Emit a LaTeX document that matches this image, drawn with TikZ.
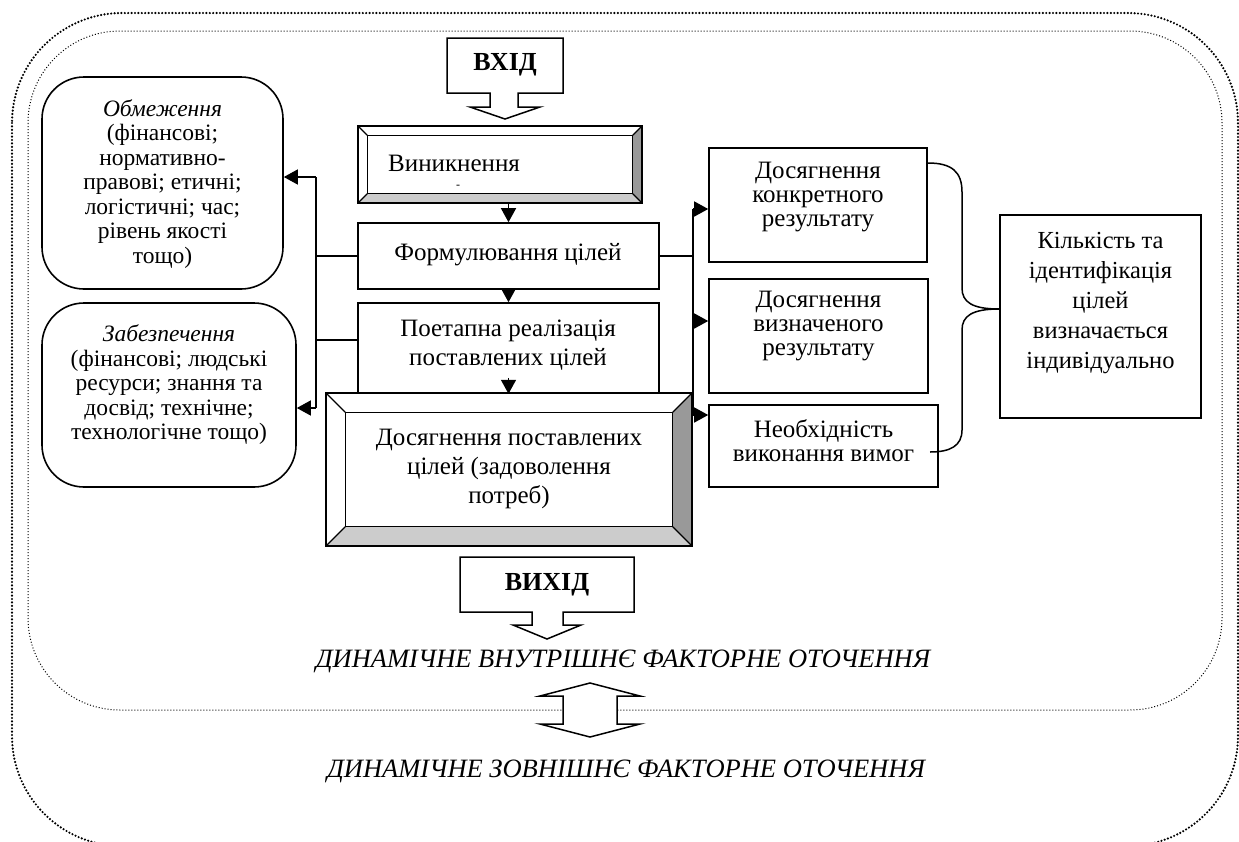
\documentclass[tikz,border=0pt]{standalone}
\usepackage{fontspec}
\setmainfont{Liberation Serif}
\usetikzlibrary{arrows.meta,calc}
\definecolor{bevdark}{HTML}{999999}
\definecolor{bevlight}{HTML}{CCCCCC}
\tikzset{
  bx/.style={draw, line width=1.6pt, fill=white, inner sep=0pt, rectangle},
  rbx/.style={draw, line width=1.6pt, fill=white, inner sep=0pt, rectangle, rounded corners=42pt},
  plain/.style={inner sep=0pt, rectangle},
  ctxt/.style={align=center, inner sep=0pt, font=\fontsize{25}{29}\selectfont},
  ltxt/.style={align=center, inner sep=0pt, font=\fontsize{23.5}{24.5}\selectfont},
  stxt/.style={align=center, inner sep=0pt, font=\fontsize{25}{24}\selectfont},
  ktxt/.style={align=center, inner sep=0pt, font=\fontsize{24.5}{30}\selectfont},
  btxt/.style={inner sep=0pt, font=\fontsize{26}{30}\selectfont\bfseries},
  envtxt/.style={inner sep=0pt, font=\fontsize{26.5}{30}\selectfont\itshape},
  ln/.style={line width=1.4pt},
  arr/.style={line width=1.4pt, -{Triangle[length=14pt,width=15pt]}},
  outerdot/.style={line width=2.4pt, dash pattern=on 0pt off 3.4pt, line cap=round, rounded corners=110pt},
  innerdot/.style={line width=1pt, dash pattern=on 1pt off 2pt, rounded corners=92pt},
  callout/.style={draw, line width=1.5pt, fill=white, line join=miter},
}
\newcommand\bevelframe[2]{%
  \fill[white] (#1.north west) -- (#1.north east) -- ($(#1.north east)+(-#2,#2)$) -- ($(#1.north west)+(#2,#2)$) -- cycle;
  \fill[white] (#1.north west) -- (#1.south west) -- ($(#1.south west)+(#2,-#2)$) -- ($(#1.north west)+(#2,#2)$) -- cycle;
  \fill[bevdark] (#1.north east) -- (#1.south east) -- ($(#1.south east)+(-#2,-#2)$) -- ($(#1.north east)+(-#2,#2)$) -- cycle;
  \fill[bevlight] (#1.south west) -- (#1.south east) -- ($(#1.south east)+(-#2,-#2)$) -- ($(#1.south west)+(#2,-#2)$) -- cycle;
  \draw[line width=1.5pt] (#1.north west) rectangle (#1.south east);
  \draw[line width=1.5pt] ($(#1.north west)+(#2,#2)$) rectangle ($(#1.south east)+(-#2,-#2)$);
  \draw[line width=1.2pt] (#1.north west) -- ($(#1.north west)+(#2,#2)$)
    (#1.north east) -- ($(#1.north east)+(-#2,#2)$)
    (#1.south east) -- ($(#1.south east)+(-#2,-#2)$)
    (#1.south west) -- ($(#1.south west)+(#2,-#2)$);
}
\begin{document}
\begin{tikzpicture}[x=1pt,y=-1pt]
\useasboundingbox (0,0) rectangle (1239,841);
% environment frames
\draw[outerdot] (12,13) rectangle (1238,846);
\draw[innerdot] (28,31) rectangle (1222,710);

% input / output callouts
\draw[callout] (447,38) -- (563,38) -- (563,93) -- (518,93) -- (518,107) -- (540,107) -- (505,119)
  -- (470,107) -- (490,107) -- (490,93) -- (447,93) -- cycle;
\node[btxt] (vhid) at (505,65) {ВХІД};
\draw[callout] (460,557) -- (634,557) -- (634,612) -- (563,612) -- (563,625) -- (581,625) -- (547,639)
  -- (513,625) -- (532,625) -- (532,612) -- (460,612) -- cycle;
\node[btxt] (vyhid) at (547,585) {ВИХІД};

% central column
\node[plain, minimum width=284pt, minimum height=77pt] (vyn) at (500,164.5) {};
\bevelframe{vyn}{9.5}
\node[ctxt, anchor=west] (vynT) at (388,163) {Виникнення};
\node[inner sep=0pt, font=\fontsize{12}{12}\selectfont] (vynD) at (458,187) {-};

\node[bx, minimum width=301pt, minimum height=66pt] (form) at (508.5,256) {};
\node[ctxt] (formT) at (508,255) {Формулювання цілей};

\node[bx, minimum width=301pt, minimum height=90pt] (poet) at (508.5,348) {};
\node[ctxt] (poetT) at (508,345) {Поетапна реалізація\\поставлених цілей};

\node[plain, minimum width=366pt, minimum height=153pt] (big) at (509,469.5) {};
\bevelframe{big}{19.5}
\node[ctxt] (bigT) at (509,469) {Досягнення поставлених\\цілей (задоволення\\потреб)};

\draw[arr] (form.north |- vyn.south) -- (form.north);
\draw[arr] (form.south) -- (poet.north);
\draw[arr] ([yshift=16pt]poet.south) -- (poet.south);

% left boxes
\node[rbx, minimum width=241pt, minimum height=212pt] (obm) at (162.5,183) {};
\node[ltxt] (obmT) at (162.5,184) {\textit{Обмеження}\\(фінансові;\\нормативно-\\правові; етичні;\\логістичні; час;\\рівень якості\\тощо)};
\node[rbx, minimum width=254pt, minimum height=184pt] (zab) at (169,395) {};
\node[ltxt] (zabT) at (169,385) {\textit{Забезпечення}\\(фінансові; людські\\ресурси; знання та\\досвід; технічне;\\технологічне тощо)};

\coordinate (lb) at (316,0);
\draw[ln] (form.west) -- (form.west -| lb);
\draw[ln] ([yshift=8pt]poet.west) -- ([yshift=8pt]poet.west -| lb);
\draw[ln] ([yshift=6pt]obm.east -| lb) -- ([yshift=-13pt]zab.east -| lb);
\draw[arr] ([yshift=6pt]obm.east -| lb) -- ([yshift=6pt]obm.east);
\draw[arr] ([yshift=-13pt]zab.east -| lb) -- ([yshift=-13pt]zab.east);

% right boxes
\node[bx, minimum width=218pt, minimum height=114pt] (rA) at (818,205) {};
\node[stxt] (rAT) at (818,197) {Досягнення\\конкретного\\результату};
\node[bx, minimum width=219pt, minimum height=114pt] (rB) at (818.5,336) {};
\node[stxt] (rBT) at (818.5,326) {Досягнення\\визначеного\\результату};
\node[bx, minimum width=229pt, minimum height=82pt] (rC) at (823.5,446) {};
\node[stxt] (rCT) at (823.5,441) {Необхідність\\виконання вимог};
\node[bx, minimum width=201pt, minimum height=203pt] (kil) at (1100.5,316.5) {};
\node[ktxt] (kilT) at (1100.5,303) {Кількість та\\ідентифікація\\цілей\\визначається\\індивідуально};

\coordinate (rb) at (693,0);
\draw[ln] (form.east) -- (form.east -| rb);
\draw[ln] ([yshift=-4pt]rA.west -| rb) -- ([yshift=31pt]rC.west -| rb);
\draw[arr] ([yshift=-4pt]rA.west -| rb) -- ([yshift=-4pt]rA.west);
\draw[arr] ([yshift=15pt]rB.west -| rb) -- ([yshift=15pt]rB.west);
\draw[arr] ([yshift=31pt]rC.west -| rb) -- ([yshift=31pt]rC.west);

% brace
\coordinate (brT) at (928,163);
\coordinate (brB) at (930,452);
\draw[line width=1.5pt] (brT) .. controls (952,163) and (962,172) .. (962,192) -- (962,288)
  .. controls (962,302) and (972,309) .. (kil.west |- 0,309);
\draw[line width=1.5pt] (kil.west |- 0,309) .. controls (972,309) and (962,316) .. (962,330) -- (962,430)
  .. controls (962,446) and (950,452) .. (brB);

% environment labels
\node[envtxt] (dynint) at (623,661) {ДИНАМІЧНЕ ВНУТРІШНЄ ФАКТОРНЕ ОТОЧЕННЯ};
\draw[callout] (590,683) -- (640,696) -- (617,696) -- (617,724) -- (640,724) -- (590,737)
  -- (540,724) -- (563,724) -- (563,696) -- (540,696) -- cycle;
\node[envtxt] (dynext) at (626,771) {ДИНАМІЧНЕ ЗОВНІШНЄ ФАКТОРНЕ ОТОЧЕННЯ};
\end{tikzpicture}
\end{document}
